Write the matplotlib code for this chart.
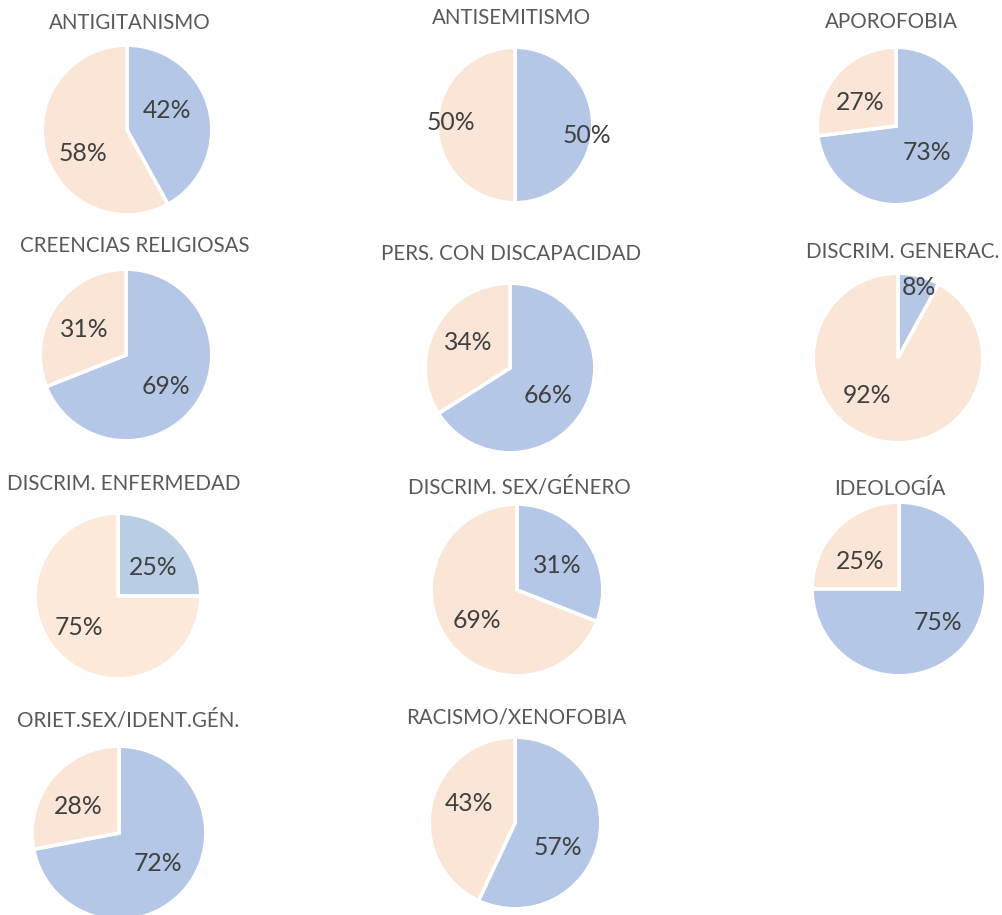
import numpy as np
import matplotlib
matplotlib.use("Agg")
import matplotlib.pyplot as plt

# ---- data ----
titles = ["ANTIGITANISMO", "ANTISEMITISMO", "APOROFOBIA",
          "CREENCIAS RELIGIOSAS", "PERS. CON DISCAPACIDAD", "DISCRIM. GENERAC.",
          "DISCRIM. ENFERMEDAD", "DISCRIM. SEX/GÉNERO", "IDEOLOGÍA",
          "ORIET.SEX/IDENT.GÉN.", "RACISMO/XENOFOBIA"]
blue_pct = [42, 50, 73, 69, 66, 8, 25, 31, 75, 72, 57]
peach_pct = [58, 50, 27, 31, 34, 92, 75, 69, 25, 28, 43]

# ---- layout (pixels in a 1003x915 canvas) ----
W, H = 1003, 915
pie_cx = [127, 515, 896, 126, 510, 898, 118, 517, 899, 119, 515]
pie_cy = [130, 125, 126, 355, 368, 358, 596, 590, 589, 833, 823]
pie_r = [84, 77, 78, 85, 84, 84, 82, 85, 86, 86, 85]
title_x = [130, 512, 891, 135, 511, 903, 124, 519, 890, 128, 516]
title_y = [23, 18, 22, 246, 254, 252, 484, 487, 489, 720, 718]
# label placement: (distance in radii, angle offset in degrees) for (blue, peach)
lab_blue = [(0.53, 12), (0.93, -8), (0.52, 1), (0.59, -4), (0.56, -7), (0.87, -2),
            (0.55, -6), (0.55, -3), (0.59, 4), (0.57, 2), (0.57, -17)]
lab_peach = [(0.59, 13), (0.83, -2), (0.55, 8), (0.57, 3), (0.58, -2), (0.57, -25),
             (0.60, -6), (0.59, 3), (0.55, 10), (0.56, 6), (0.58, -11)]

BLUE = "#B4C7E7"
PEACH = "#FBE5D6"
BLUE_ALT = "#B9CDE5"
PEACH_ALT = "#FDE9D9"
FONT = ["Lato", "DejaVu Sans"]

fig = plt.figure(figsize=(W / 100, H / 100), dpi=100)
fig.patch.set_facecolor("white")

for i, t in enumerate(titles):
    cx, cy, r = pie_cx[i], pie_cy[i], pie_r[i]
    ax = fig.add_axes([(cx - r) / W, (H - cy - r) / H, 2 * r / W, 2 * r / H])
    cols = [BLUE_ALT, PEACH_ALT] if t == "DISCRIM. ENFERMEDAD" else [BLUE, PEACH]
    wedges, _ = ax.pie([blue_pct[i], peach_pct[i]], colors=cols, startangle=90,
                       counterclock=False, radius=1.0,
                       wedgeprops=dict(edgecolor="white", linewidth=2.6))
    for w, val, (d, off) in zip(wedges, [blue_pct[i], peach_pct[i]], [lab_blue[i], lab_peach[i]]):
        mid = np.deg2rad((w.theta1 + w.theta2) / 2 + off)
        ax.text(d * np.cos(mid), d * np.sin(mid), f"{val}%", ha="center", va="center",
                fontsize=17.8, color="#404040", family=FONT)
    ax.set_xlim(-0.99, 0.99)
    ax.set_ylim(-0.99, 0.99)
    ax.set_aspect("equal")
    ax.axis("off")
    fig.text(title_x[i] / W, 1 - title_y[i] / H, t, ha="center", va="center",
             fontsize=14.8, color="#595959", family=FONT)

fig.savefig("out.png", dpi=100, facecolor="white")
